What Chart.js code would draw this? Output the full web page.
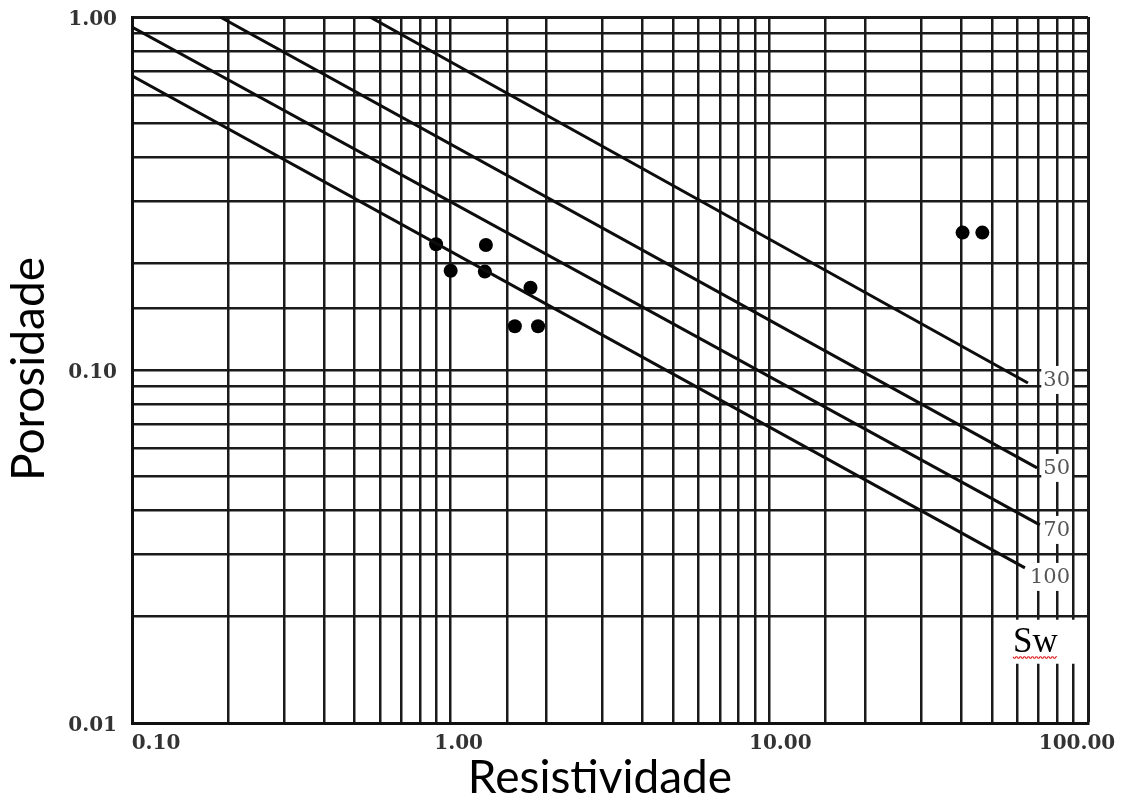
<!DOCTYPE html>
<html>
<head>
<meta charset="utf-8">
<script src="https://cdn.jsdelivr.net/npm/chart.js@4.4.1/dist/chart.umd.min.js"></script>
<style>
  html, body { margin: 0; padding: 0; background: #fff; }
  canvas { display: block; }
</style>
</head>
<body>
<canvas id="pickettChart" width="1121" height="798"></canvas>
<script>
// Values
const xTickValues = [0.1, 1, 10, 100];
const yTickValues = [0.01, 0.1, 1];

// Sample points: resistivity / porosity
const sampleRes = [0.90, 1.00, 1.29, 1.28, 1.78, 1.59, 1.88, 40.4, 46.6];
const samplePor = [0.227, 0.191, 0.226, 0.190, 0.171, 0.133, 0.133, 0.245, 0.245];

// Sw lines (start and end of each straight line)
const swNames = ['30', '50', '70', '100'];
const swStartRes = [0.558, 0.189, 0.1, 0.1];
const swStartPor = [1.0, 1.0, 0.937, 0.681];
const swEndRes = [64.8, 69.2, 70.6, 63.4];
const swEndPor = [0.0919, 0.0528, 0.0364, 0.0275];

const lineSets = swNames.map((name, i) => ({
    type: 'line',
    label: 'Sw ' + name,
    data: [{ x: swStartRes[i], y: swStartPor[i] }, { x: swEndRes[i], y: swEndPor[i] }],
    borderColor: '#0d0d0d',
    borderWidth: 3,
    pointRadius: 0,
    fill: false,
    tension: 0
}));

const pointSet = {
    type: 'scatter',
    label: 'Amostras',
    data: sampleRes.map((r, i) => ({ x: r, y: samplePor[i] })),
    backgroundColor: '#000',
    borderWidth: 0,
    pointRadius: 7
};

// text, label boxes and the Sw box
const textPlugin = {
    id: 'pickettText',
    afterDraw(chart) {
        const ctx = chart.ctx;
        const xs = chart.scales.x;
        const ys = chart.scales.y;
        const area = chart.chartArea;
        ctx.save();

        // y tick labels
        ctx.font = 'bold 20px "DejaVu Serif"';
        ctx.fillStyle = '#333';
        ctx.textAlign = 'right';
        ctx.textBaseline = 'middle';
        yTickValues.forEach(v => {
            ctx.fillText(v.toFixed(2), area.left - 15, ys.getPixelForValue(v) + 3);
        });

        // x tick labels (they sit a bit off-centre in the original)
        const xShift = [24, 8, 11, -11];
        ctx.textAlign = 'center';
        xTickValues.forEach((v, i) => {
            ctx.fillText(v.toFixed(2), xs.getPixelForValue(v) + xShift[i], area.bottom + 21);
        });

        // Sw line labels on white boxes
        const dy = [-3, 0, 5, 9];
        ctx.font = '21px "DejaVu Serif"';
        ctx.textAlign = 'right';
        swNames.forEach((name, i) => {
            const cy = ys.getPixelForValue(swEndPor[i]) + dy[i];
            const rx = area.right - 18;
            const w = ctx.measureText(name).width;
            ctx.fillStyle = '#fff';
            ctx.fillRect(rx - w - 2, cy - 14, w + 4, 28);
            ctx.fillStyle = '#555';
            ctx.fillText(name, rx, cy + 1);
        });

        // Sw legend box
        const bx = area.right - 86;
        const by = ys.getPixelForValue(0.02) + 3;
        ctx.fillStyle = '#fff';
        ctx.fillRect(bx, by, 78, 44);
        ctx.fillStyle = '#000';
        ctx.font = '35px "Liberation Serif"';
        ctx.textAlign = 'left';
        ctx.textBaseline = 'alphabetic';
        ctx.fillText('Sw', bx + 11, by + 32);
        const sw = ctx.measureText('Sw').width;
        ctx.strokeStyle = '#e02020';
        ctx.lineWidth = 1.2;
        ctx.beginPath();
        for (let k = 0; k <= sw; k += 1) {
            const yy = by + 37 + ((k % 4) < 2 ? (k % 2) * 1.5 : 1.5 - (k % 2) * 1.5);
            if (k === 0) ctx.moveTo(bx + 11 + k, yy); else ctx.lineTo(bx + 11 + k, yy);
        }
        ctx.stroke();

        // axis titles
        ctx.fillStyle = '#000';
        ctx.font = '46px Lato';
        ctx.textAlign = 'center';
        ctx.fillText('Resistividade', 600, area.bottom + 70);
        ctx.translate(44, 369);
        ctx.rotate(-Math.PI / 2);
        ctx.fillText('Porosidade', 0, 0);
        ctx.restore();
    }
};

const gridWidth = max => c => (c.tick && c.tick.value >= max * 0.999 ? 3 : 2.5);

new Chart(document.getElementById('pickettChart'), {
    data: { datasets: [...lineSets, pointSet] },
    options: {
        responsive: false,
        animation: false,
        devicePixelRatio: 1,
        layout: { padding: { left: 132, top: 17, right: 33, bottom: 75 } },
        plugins: { legend: { display: false }, tooltip: { enabled: false } },
        scales: {
            x: {
                type: 'logarithmic',
                min: 0.1,
                max: 100,
                ticks: { display: false, autoSkip: false },
                grid: { color: '#1a1a1a', lineWidth: gridWidth(100), drawTicks: false },
                border: { color: '#111', width: 3 }
            },
            y: {
                type: 'logarithmic',
                min: 0.01,
                max: 1,
                ticks: { display: false, autoSkip: false },
                grid: { color: '#1a1a1a', lineWidth: gridWidth(1), drawTicks: false },
                border: { color: '#111', width: 3 }
            }
        }
    },
    plugins: [textPlugin]
});
</script>
</body>
</html>
